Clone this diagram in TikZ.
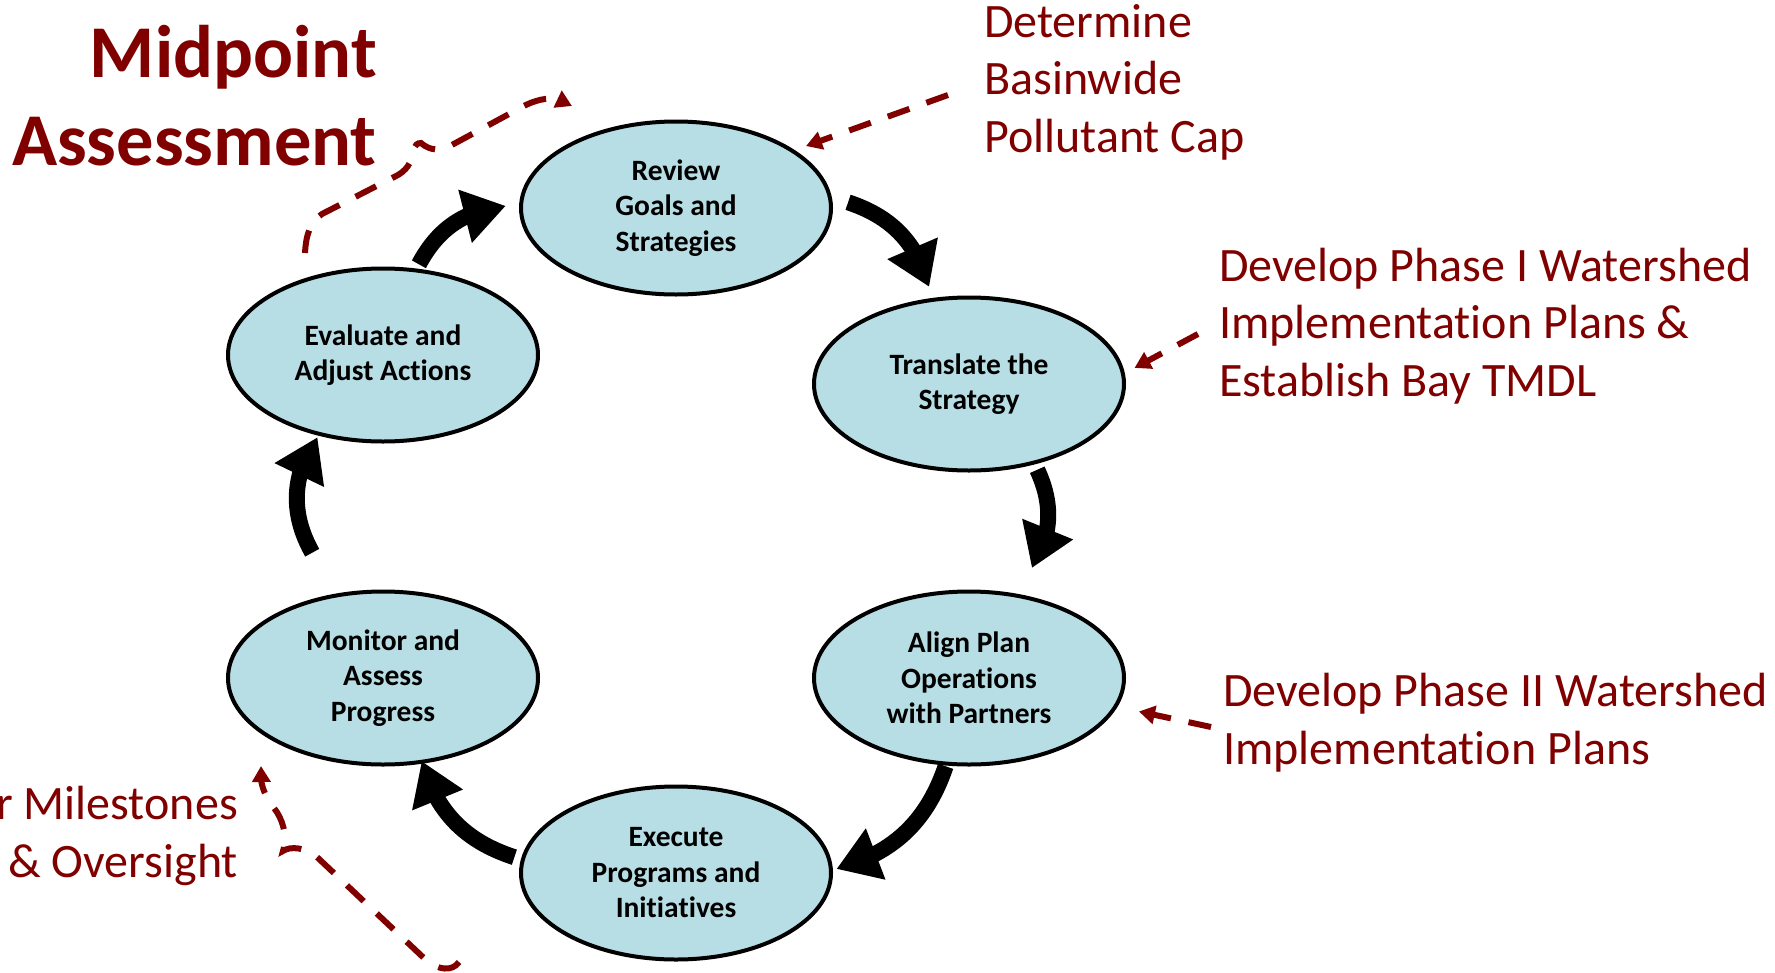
\documentclass[tikz,border=0pt]{standalone}
\usepackage{fontspec}
\setmainfont[Ligatures=NoCommon]{Carlito}
\usetikzlibrary{shapes.geometric,arrows.meta,bending}

\definecolor{cycfill}{RGB}{183,222,228}
\definecolor{notered}{RGB}{128,0,0}

\begin{document}
\begin{tikzpicture}
[
x=1pt, y=1pt,
step-a/.style={ellipse, draw=black, line width=4pt, fill=cycfill, minimum width=310pt, minimum height=173pt, inner sep=0pt, align=center, font=\bfseries\fontsize{29.5pt}{35.5pt}\selectfont},
turn-a/.style={line width=16pt, -{Triangle[width=52pt,length=42pt]}},
note-a/.style={notered, line width=6pt, dash pattern=on 23pt off 18pt, -{Triangle[width=18pt,length=16pt]}},
text-a/.style={notered, inner sep=0pt, align=left, font=\fontsize{48pt}{57.5pt}\selectfont},
head-a/.style={notered, inner sep=0pt, align=right, font=\bfseries\fontsize{74.5pt}{88pt}\selectfont}
]
\useasboundingbox (0,0) rectangle (1775,-972);

% the six steps of the cycle
\node (review)    [step-a] at (676,-208) {Review\\Goals and\\Strategies};
\node (translate) [step-a] at (969,-384) {Translate the\\Strategy};
\node (align)     [step-a] at (969,-678) {Align Plan\\Operations\\with Partners};
\node (execute)   [step-a] at (676,-873) {Execute\\Programs and\\Initiatives};
\node (monitor)   [step-a] at (383,-678) {Monitor and\\Assess\\Progress};
\node (evaluate)  [step-a] at (383,-355) {Evaluate and\\Adjust Actions};

% notes (base = last line)
\node (midpoint)  [head-a, anchor=base east] at (377,-165) {Midpoint\\Assessment};
\node (capnote)   [text-a, anchor=base west] at (984,-152) {Determine\\Basinwide\\Pollutant Cap};
\node (phase-one) [text-a, anchor=base west] at (1219,-396) {Develop Phase I Watershed\\Implementation Plans \&\\Establish Bay TMDL};
\node (phase-two) [text-a, anchor=base west] at (1223,-764) {Develop Phase II Watershed\\Implementation Plans};
\node (milestone) [text-a, anchor=base east, align=right] at (238,-877) {r Milestones\\\& Oversight};

% cycle arrows
\coordinate (hub) at (676,-540);
\draw[turn-a] ([shift={(63:379)}]hub)   to[bend left=28] ([shift={(45:358)}]hub);
\draw[turn-a] ([shift={(11:368)}]hub)   to[bend left=28] ([shift={(-4.5:357)}]hub);
\draw[turn-a] ([shift={(-40:352)}]hub)  to[bend left=28] ([shift={(-64:366)}]hub);
\draw[turn-a] ([shift={(-117:356)}]hub) to[bend left=28] ([shift={(-139:337)}]hub);
\draw[turn-a] ([shift={(-178:364)}]hub) to[bend left=32] ([shift={(164:373)}]hub);
\draw[turn-a] ([shift={(133:377)}]hub)  to[bend left=28] ([shift={(117:375)}]hub);

% dashed note arrows
\coordinate (cap-from)   at (948,-95);
\coordinate (one-from)   at (1198,-334);
\coordinate (two-from)   at (1211,-727);
\coordinate (mid-start)  at (305,-253);
\coordinate (mid-end)    at (572,-106);
\coordinate (mile-start) at (459,-962);
\coordinate (mile-end)   at (261,-766);
\draw[note-a, shorten >=12pt] (cap-from) -- (review.26);
\draw[note-a, shorten >=11pt] (one-from) -- (translate.4);
\draw[note-a, shorten >=22pt] (two-from) -- (align.-11);
\draw[note-a] (mid-start) .. controls (306,-235) and (310,-222) .. (322,-214)
  -- (398,-175) .. controls (410,-168) and (412,-158) .. (414,-150)
  .. controls (415,-145) and (417,-143) .. (421,-143)
  .. controls (430,-151) and (441,-151) .. (450,-146)
  -- (522,-107) .. controls (540,-97) and (560,-95) .. (mid-end);
\draw[note-a] (mile-start) .. controls (452,-972) and (438,-970) .. (426,-960)
  -- (318,-858) .. controls (306,-847) and (290,-846) .. (283,-851)
  .. controls (288,-835) and (282,-818) .. (274,-808)
  .. controls (264,-795) and (259,-782) .. (mile-end);
\end{tikzpicture}
\end{document}
